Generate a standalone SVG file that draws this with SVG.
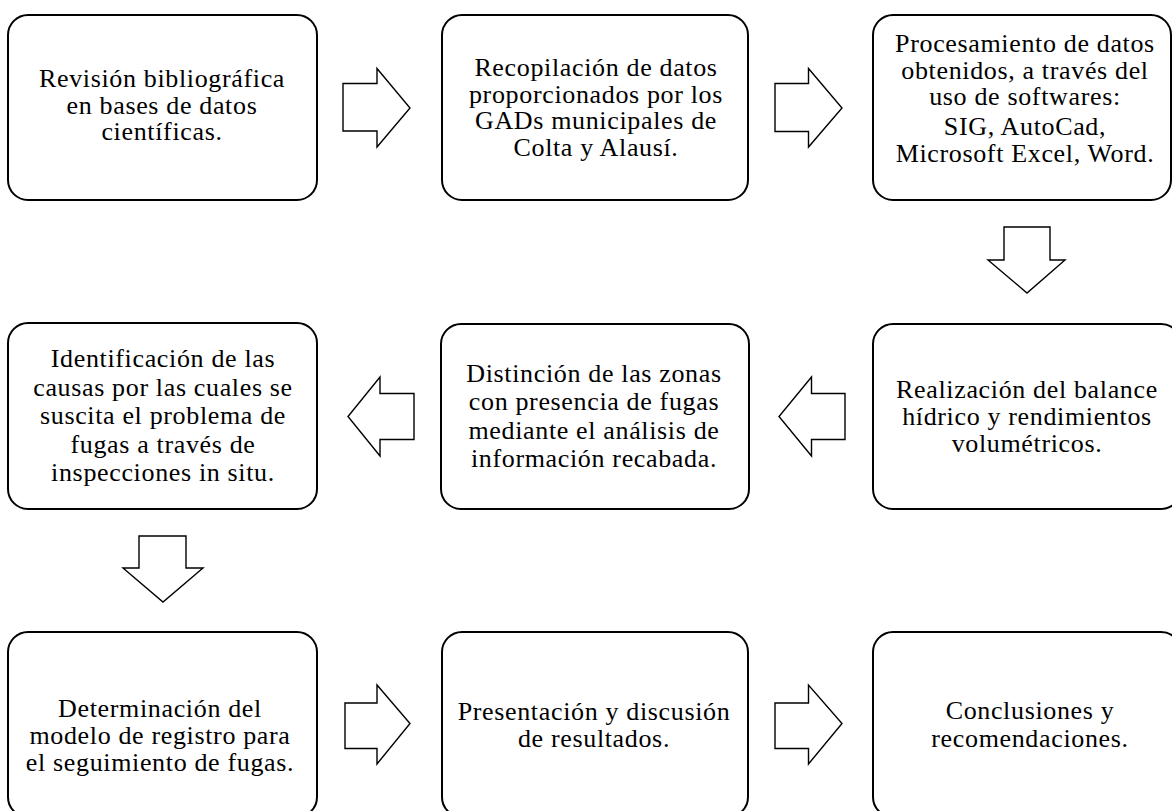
<svg xmlns="http://www.w3.org/2000/svg" width="1172" height="811" viewBox="0 0 1172 811">
<style>
.box{fill:#fff;stroke:#000;stroke-width:2}
.arr{fill:#fff;stroke:#000;stroke-width:1.4;stroke-linejoin:miter}
text{font-family:"Liberation Serif","Times New Roman",serif;font-size:26px;letter-spacing:0.65px;fill:#000;text-anchor:middle}
</style>
<rect width="1172" height="811" fill="#fff"/>
<g id="n1"><rect class="box" x="8" y="15" width="309" height="185" rx="20"/>
<text x="162" y="87">Revisión bibliográfica</text><text x="162" y="113.5">en bases de datos</text><text x="162" y="140">científicas.</text></g>
<g id="n2"><rect class="box" x="442" y="15" width="306" height="185" rx="20"/>
<text x="596" y="76">Recopilación de datos</text><text x="596" y="102.5">proporcionados por los</text><text x="596" y="129">GADs municipales de</text><text x="596" y="155.5">Colta y Alausí.</text></g>
<g id="n3"><rect class="box" x="873" y="15" width="298" height="185" rx="20"/>
<text x="1025" y="52">Procesamiento de datos</text><text x="1025" y="78.5">obtenidos, a través del</text><text x="1025" y="105">uso de softwares:</text><text x="1025" y="134.5">SIG, AutoCad,</text><text x="1025" y="161.5">Microsoft Excel, Word.</text></g>
<g id="n4"><rect class="box" x="8" y="323" width="309" height="186" rx="20"/>
<text x="163" y="367">Identificación de las</text><text x="163" y="395.5">causas por las cuales se</text><text x="163" y="424">suscita el problema de</text><text x="163" y="452.5">fugas a través de</text><text x="163" y="481">inspecciones in situ.</text></g>
<g id="n5"><rect class="box" x="441" y="324" width="308" height="185" rx="20"/>
<text x="594" y="381.5">Distinción de las zonas</text><text x="594" y="410">con presencia de fugas</text><text x="594" y="438.5">mediante el análisis de</text><text x="594" y="467">información recabada.</text></g>
<g id="n6"><rect class="box" x="873" y="324" width="308" height="185" rx="20"/>
<text x="1027" y="398">Realización del balance</text><text x="1027" y="425">hídrico y rendimientos</text><text x="1027" y="452">volumétricos.</text></g>
<g id="n7"><rect class="box" x="8" y="632" width="309" height="185" rx="20"/>
<text x="160" y="717">Determinación del</text><text x="160" y="744">modelo de registro para</text><text x="160" y="770.5">el seguimiento de fugas.</text></g>
<g id="n8"><rect class="box" x="442" y="632" width="306" height="185" rx="20"/>
<text x="594" y="720">Presentación y discusión</text><text x="594" y="746.5">de resultados.</text></g>
<g id="n9"><rect class="box" x="873" y="632" width="308" height="185" rx="20"/>
<text x="1030" y="719">Conclusiones y</text><text x="1030" y="746.5">recomendaciones.</text></g>
<g id="connectors">
<polygon class="arr" points="343,83.5 377,83.5 377,68.5 410,108 377,147 377,131 343,131"/>
<polygon class="arr" points="775,83.5 808.5,83.5 808.5,68.5 842,108 808.5,147 808.5,131.5 775,131.5"/>
<polygon class="arr" points="1004,227 1050,227 1050,260 1065,260 1027,293 988,260 1004,260"/>
<polygon class="arr" points="845,393.5 811.5,393.5 811.5,377 779,416.5 811.5,456 811.5,439.5 845,439.5"/>
<polygon class="arr" points="414,393.5 380,393.5 380,377 348,416.5 380,456 380,439.5 414,439.5"/>
<polygon class="arr" points="139,536 186,536 186,568 203,568 163,602 123,568 139,568"/>
<polygon class="arr" points="345,703 377,703 377,685 410,723.5 377,764 377,748.5 345,748.5"/>
<polygon class="arr" points="775,703 808.5,703 808.5,685 842,723.5 808.5,764 808.5,748.5 775,748.5"/>
</g>
</svg>
